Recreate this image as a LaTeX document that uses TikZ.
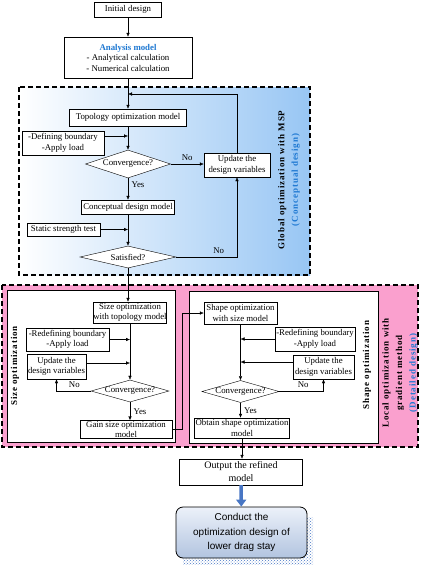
\documentclass[tikz,border=0pt]{standalone}
\usepackage{fontspec}
\setmainfont{Liberation Serif}
\newfontfamily\arialfont{Liberation Sans}
\usetikzlibrary{arrows.meta,shapes.geometric,patterns}
\definecolor{mspblue}{RGB}{152,198,244}
\definecolor{gradpink}{RGB}{250,160,206}
\definecolor{labelblue}{RGB}{30,120,210}
\definecolor{stayblue}{RGB}{72,118,196}
\definecolor{stayA}{RGB}{236,241,249}
\definecolor{stayB}{RGB}{178,196,224}

\begin{document}
\begin{tikzpicture}[ x=1pt, y=-1pt, >={Latex[length=4pt,width=3.5pt]},
    font=\fontsize{8.8}{10.5}\selectfont,
    box/.style={draw, fill=white, align=center, inner sep=0pt},
    dia/.style={draw, fill=white, diamond, aspect=3.5, inner sep=0pt},
    region/.style={draw=black, line width=1.4pt, dash pattern=on 5pt off 3pt},
    sidelabel/.style={rotate=90, align=center, font=\fontsize{9}{13.5}\selectfont\bfseries\addfontfeature{LetterSpace=10}},
    bigarrow/.style={stayblue, line width=3.5pt, -{Triangle[width=10pt,length=7pt]}} ]
    \useasboundingbox (0,0) rectangle (421,565);

    % Regions
    \draw[region, left color=white, right color=mspblue] (19,87) rectangle (310,275);
    \draw[region, fill=gradpink] (2,285) rectangle (418,447);
    \draw[fill=white] (7,290) rectangle (175,442);
    \draw[fill=white] (189,291) rectangle (378,443);

    % --- Global optimization ---
    \node[box, minimum width=67pt, minimum height=15pt] (init) at (128,9.5) {Initial design};
    \node[box, minimum width=128pt, minimum height=41pt] (anal) at (128,57.5) {\textcolor{labelblue}{\textbf{Analysis model}}\\- Analytical calculation\\- Numerical calculation};
    \node[box, minimum width=117pt, minimum height=17pt] (topo) at (128,117.5) {Topology optimization model};
    \node[box, minimum width=82pt, minimum height=24pt] (bndA) at (63,143) {-Defining boundary\\-Apply load};
    \node[dia, minimum width=85pt, minimum height=28pt] (convA) at (128,164) {Convergence?};
    \node[box, minimum width=66pt, minimum height=24pt] (updA) at (237,165) {Update the\\design variables};
    \node[box, minimum width=93pt, minimum height=14pt] (concept) at (128,207) {Conceptual design model};
    \node[box, minimum width=73pt, minimum height=13pt] (static) at (63.5,229.5) {Static strength test};
    \node[dia, minimum width=96pt, minimum height=22pt] (sat) at (128,257) {Satisfied?};

    % --- Size optimization ---
    \node[box, minimum width=73pt, minimum height=21pt] (sizeopt) at (130,312.5) {Size optimization\\with topology model};
    \node[box, minimum width=83pt, minimum height=23pt] (bndB) at (67.5,339.5) {-Redefining boundary\\-Apply load};
    \node[box, minimum width=59pt, minimum height=25pt] (updB) at (56.5,366.5) {Update the\\design variables};
    \node[dia, minimum width=78pt, minimum height=22pt] (convB) at (130,391) {Convergence?};
    \node[box, minimum width=92pt, minimum height=18pt] (gain) at (126,429.5) {Gain size optimization\\model};

    % --- Shape optimization ---
    \node[box, minimum width=73pt, minimum height=22pt] (shapeopt) at (240.5,313) {Shape optimization\\with size model};
    \node[box, minimum width=80pt, minimum height=24pt] (bndC) at (315,339) {-Redefining boundary\\-Apply load};
    \node[box, minimum width=61pt, minimum height=24pt] (updC) at (323.5,367) {Update the\\design variables};
    \node[dia, minimum width=76pt, minimum height=21pt] (convC) at (240.5,391.5) {Convergence?};
    \node[box, minimum width=95pt, minimum height=20pt] (obtain) at (242,428) {Obtain shape optimization\\model};

    % --- Output ---
    \node[box, minimum width=123pt, minimum height=26pt, font=\fontsize{10}{13}\selectfont] (refined) at (241,472) {Output the refined\\model};
    \fill[pattern=crosshatch dots, pattern color=stayblue] (183,517) rectangle (313,564);
    \node[draw, line width=0.8pt, rounded corners=7pt, top color=stayA, bottom color=stayB, align=center,
          minimum width=131pt, minimum height=51pt, font=\arialfont\fontsize{10}{14.5}\selectfont] (conduct) at (241.5,532.5)
          {Conduct the\\optimization design of\\lower drag stay};

    % Side labels
    \node[sidelabel] (lblGlobal) at (289,180) {Global optimization with MSP\\\textcolor{labelblue}{(Conceptual design)}};
    \node[sidelabel] (lblSize) at (15,366) {Size optimization};
    \node[sidelabel] (lblShape) at (367,365) {Shape optimization};
    \node[sidelabel] (lblLocal) at (400,373) {Local optimization with\\gradient method\\\textcolor{labelblue}{(Detailed design)}};

    % Connectors
    \coordinate (loopA) at (128,94);
    \coordinate (inA) at (128,136);
    \coordinate (inC) at (130,363);
    \coordinate (inD) at (240.5,362);
    \draw[->] (init) -- (anal);
    \draw[->] (anal) -- (topo);
    \draw[->] (updA.north) |- (loopA);
    \draw[->] (inA -| bndA.east) -- (inA);
    \draw[->] (topo) -- (convA);
    \draw[->] (convA.east) -- node[above] {No} (convA.east -| updA.west);
    \draw[->] (convA) -- node[right, pos=0.3] {Yes} (concept);
    \draw[->] (concept) -- (sat);
    \draw[->] (static.east) -- (static.east -| concept.south);
    \draw[->] (sat.east) -| node[pos=0.35, above] {No} (updA.south);
    \draw[->] (sat.south) -- (sat.south |- sizeopt.north);

    \draw[->] (sizeopt) -- (convB);
    \draw[->] (bndB.east) -- (bndB.east -| sizeopt.south);
    \draw[->] (inC -| updB.east) -- (inC);
    \draw[->] (convB.west) -| node[pos=0.24, above] {No} (updB.south);
    \draw[->] (convB.south) -- node[right] {Yes} (convB.south |- gain.north);
    \draw[->] (gain.east) -- ++(10,0) |- (shapeopt.west);

    \draw[->] (shapeopt) -- (convC);
    \draw[->] (bndC.west) -- (bndC.west -| shapeopt.south);
    \draw[->] (inD -| updC.west) -- (inD);
    \draw[->] (convC.east) -| node[pos=0.27, above] {No} (updC.south);
    \draw[->] (convC.south) -- node[right] {Yes} (convC.south |- obtain.north);
    \draw[->] (obtain.south) -- (obtain.south |- refined.north);
    \draw[bigarrow] (refined) -- (conduct);
  \end{tikzpicture}
\end{document}
